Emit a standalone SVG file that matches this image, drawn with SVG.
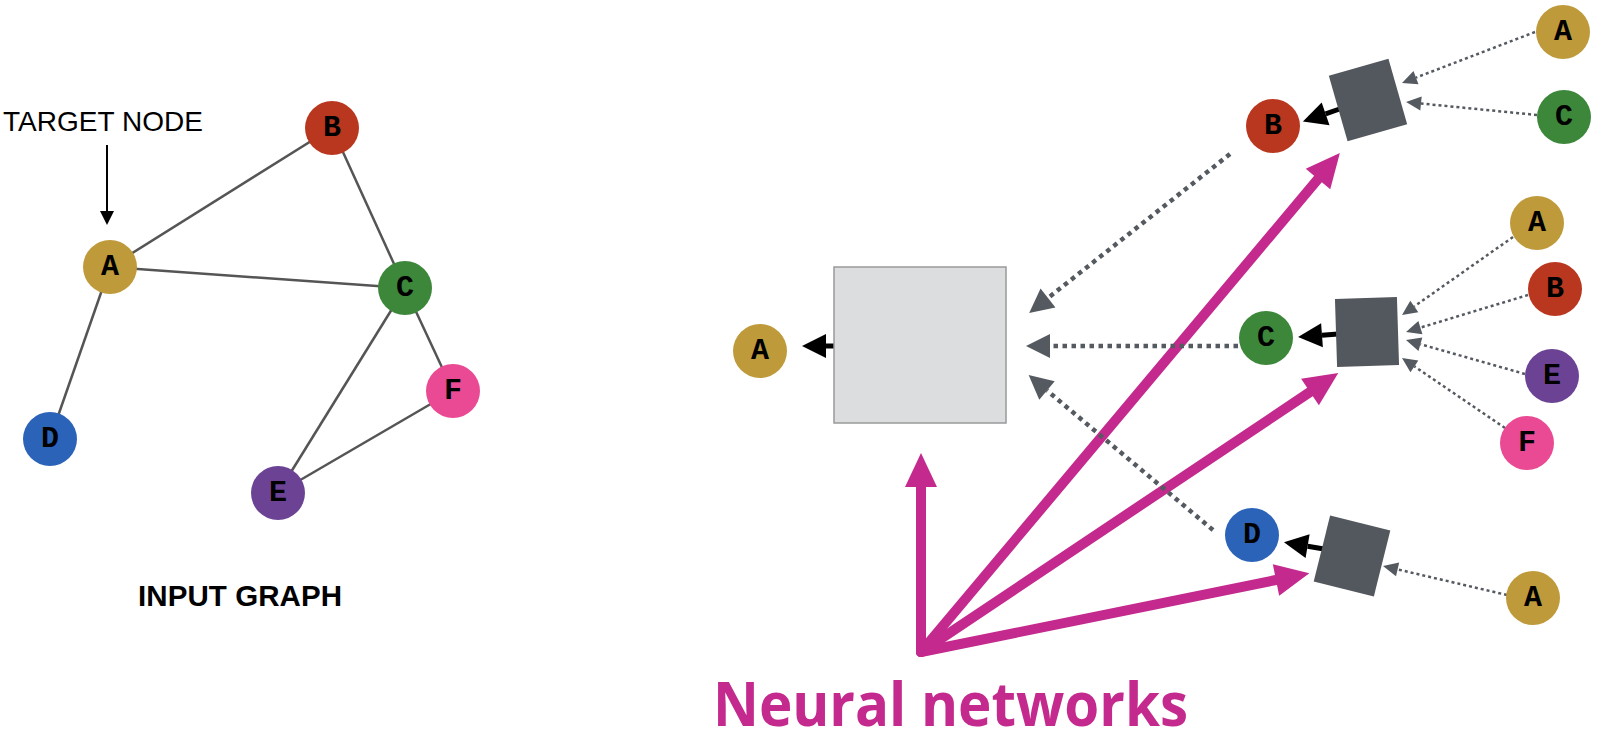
<svg xmlns="http://www.w3.org/2000/svg" width="1604" height="734" viewBox="0 0 1604 734">
<style>
.lbl{font-family:"Liberation Mono",monospace;font-weight:bold;font-size:30px;fill:#000;text-anchor:middle;dominant-baseline:central}
.edge{stroke:#555;stroke-width:2.5;fill:none}
.nA{fill:#bf9a3b}.nB{fill:#b9371f}.nC{fill:#3d873a}.nD{fill:#2b63b8}.nE{fill:#6c4394}.nF{fill:#e94a93}
.sq{fill:#53575e}
.big{stroke:#555a60;stroke-width:4.5;stroke-dasharray:4.5 4.5;fill:none;marker-end:url(#hBig)}
.small{stroke:#555a60;stroke-width:2.5;stroke-dasharray:3 3;fill:none;marker-end:url(#hSmall)}
.blk{stroke:#000;stroke-width:5;fill:none;marker-end:url(#hBlk)}
.nn{stroke:#c42a8e;stroke-width:10;fill:none;stroke-linecap:round;marker-end:url(#hNN)}
</style>
<defs>
<marker id="hBig" markerUnits="userSpaceOnUse" markerWidth="26" markerHeight="26" refX="0" refY="12" orient="auto" overflow="visible"><path d="M0,0 L24,12 L0,24 z" fill="#555a60"/></marker>
<marker id="hSmall" markerUnits="userSpaceOnUse" markerWidth="16" markerHeight="16" refX="0" refY="7" orient="auto" overflow="visible"><path d="M0,0 L15,7 L0,14 z" fill="#555a60"/></marker>
<marker id="hBlk" markerUnits="userSpaceOnUse" markerWidth="26" markerHeight="26" refX="0" refY="12" orient="auto" overflow="visible"><path d="M0,0 L24,12 L0,24 z" fill="#000"/></marker>
<marker id="hNN" markerUnits="userSpaceOnUse" markerWidth="36" markerHeight="34" refX="0" refY="16" orient="auto" overflow="visible"><path d="M0,0 L34,16 L0,32 z" fill="#c42a8e"/></marker>
<marker id="hTgt" markerUnits="userSpaceOnUse" markerWidth="16" markerHeight="16" refX="0" refY="7" orient="auto" overflow="visible"><path d="M0,0 L14,7 L0,14 z" fill="#000"/></marker>
</defs>
<rect width="1604" height="734" fill="#fff"/>

<g id="connectors">
<g id="input-edges">
<line class="edge" x1="110" y1="267" x2="332" y2="128"/>
<line class="edge" x1="110" y1="267" x2="405" y2="288"/>
<line class="edge" x1="110" y1="267" x2="50" y2="439"/>
<line class="edge" x1="332" y1="128" x2="405" y2="288"/>
<line class="edge" x1="405" y1="288" x2="278" y2="493"/>
<line class="edge" x1="405" y1="288" x2="453" y2="391"/>
<line class="edge" x1="278" y1="493" x2="453" y2="391"/>
<line x1="107" y1="145" x2="107" y2="211" stroke="#000" stroke-width="2" marker-end="url(#hTgt)"/>
</g>
<g id="magenta">
<path class="nn" d="M921,652 L921,487"/>
<path class="nn" d="M921,652 L1318,179"/>
<path class="nn" d="M921,652 L1310,392"/>
<path class="nn" d="M921,652 L1276,580"/>
</g>
<g id="dotted-big">
<path class="big" d="M1230,154 L1048,298"/>
<path class="big" d="M1238,346 L1050,346"/>
<path class="big" d="M1213,530 L1047,390.5"/>
</g>
<g id="dotted-small">
<path class="small" d="M1535,32 L1416,77.6"/>
<path class="small" d="M1537,115 L1421,103.5"/>
<path class="small" d="M1513,237 L1414.3,306.4"/>
<path class="small" d="M1528,295 L1420.4,327.6"/>
<path class="small" d="M1525,374 L1420.4,344.2"/>
<path class="small" d="M1505,428 L1414.4,366.4"/>
<path class="small" d="M1507,595 L1397.6,569.4"/>
</g>
<g id="black-arrows">
<path class="blk" d="M836,346 L826,346"/>
<path class="blk" d="M1341,108.5 L1325.6,113.8"/>
<path class="blk" d="M1338,334 L1322,335.2"/>
<path class="blk" d="M1324,549 L1307.6,546.2"/>
</g>
</g>

<g id="input-graph">
<g id="in-A"><circle class="nA" cx="110" cy="267" r="27"/><text class="lbl" x="110" y="267">A</text></g>
<g id="in-B"><circle class="nB" cx="332" cy="128" r="27"/><text class="lbl" x="332" y="128">B</text></g>
<g id="in-C"><circle class="nC" cx="405" cy="288" r="27"/><text class="lbl" x="405" y="288">C</text></g>
<g id="in-D"><circle class="nD" cx="50" cy="439" r="27"/><text class="lbl" x="50" y="439">D</text></g>
<g id="in-E"><circle class="nE" cx="278" cy="493" r="27"/><text class="lbl" x="278" y="493">E</text></g>
<g id="in-F"><circle class="nF" cx="453" cy="391" r="27"/><text class="lbl" x="453" y="391">F</text></g>
<text id="target-label" x="3" y="131" font-family="'Liberation Sans',Arial,sans-serif" font-size="28" fill="#000" textLength="200">TARGET NODE</text>
<text id="input-label" x="138" y="606" font-family="'Liberation Sans',Arial,sans-serif" font-size="29.5" font-weight="bold" fill="#000" textLength="204">INPUT GRAPH</text>
</g>

<g id="big-box"><rect x="834" y="267" width="172" height="156" fill="#dcdddf" stroke="#999" stroke-width="1.5"/></g>
<g id="out-A"><circle class="nA" cx="760" cy="351" r="27"/><text class="lbl" x="760" y="351">A</text></g>

<g id="sq-B"><rect class="sq" x="-31" y="-34" width="62" height="68" transform="translate(1368,100) rotate(-16)"/></g>
<g id="sq-C"><rect class="sq" x="-31" y="-34" width="62" height="68" transform="translate(1367,332) rotate(-1.8)"/></g>
<g id="sq-D"><rect class="sq" x="-31" y="-34" width="62" height="68" transform="translate(1352,556) rotate(14)"/></g>

<g id="l1-B"><circle class="nB" cx="1273" cy="126" r="27"/><text class="lbl" x="1273" y="126">B</text></g>
<g id="l1-C"><circle class="nC" cx="1266" cy="338" r="27"/><text class="lbl" x="1266" y="338">C</text></g>
<g id="l1-D"><circle class="nD" cx="1252" cy="535" r="27"/><text class="lbl" x="1252" y="535">D</text></g>

<g id="l2-A1"><circle class="nA" cx="1563" cy="32" r="27"/><text class="lbl" x="1563" y="32">A</text></g>
<g id="l2-C1"><circle class="nC" cx="1564" cy="117" r="27"/><text class="lbl" x="1564" y="117">C</text></g>
<g id="l2-A2"><circle class="nA" cx="1537" cy="223" r="27"/><text class="lbl" x="1537" y="223">A</text></g>
<g id="l2-B2"><circle class="nB" cx="1555" cy="289" r="27"/><text class="lbl" x="1555" y="289">B</text></g>
<g id="l2-E2"><circle class="nE" cx="1552" cy="376" r="27"/><text class="lbl" x="1552" y="376">E</text></g>
<g id="l2-F2"><circle class="nF" cx="1527" cy="443" r="27"/><text class="lbl" x="1527" y="443">F</text></g>
<g id="l2-A3"><circle class="nA" cx="1533" cy="598" r="27"/><text class="lbl" x="1533" y="598">A</text></g>

<text id="nn-label" x="713" y="726" font-family="'Open Sans',sans-serif" font-size="60" font-weight="bold" fill="#c42a8e" textLength="475" lengthAdjust="spacingAndGlyphs">Neural networks</text>
</svg>
